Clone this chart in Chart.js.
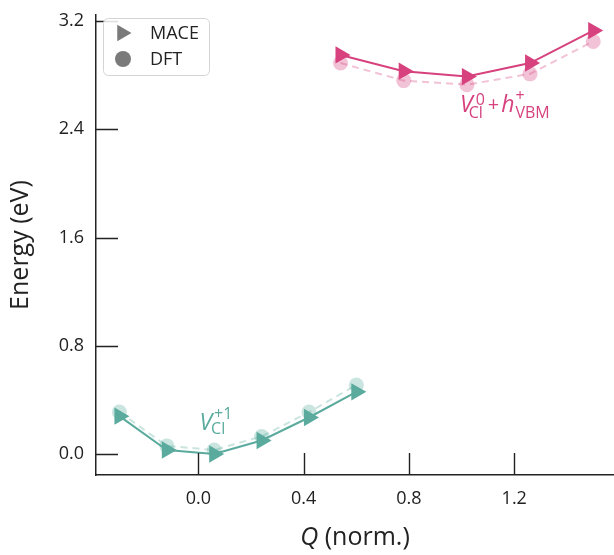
<!DOCTYPE html>
<html>
<head>
<meta charset="utf-8">
<script src="https://cdn.jsdelivr.net/npm/chart.js@4"></script>
<style>
  html, body { margin: 0; padding: 0; background: #fff; }
  canvas { display: block; }
</style>
</head>
<body>
<canvas id="chart" width="614" height="555"></canvas>
<script>
// Configuration-coordinate energies for the two charge states
const qCharged = [-0.30, -0.12, 0.06, 0.24, 0.42, 0.60];
const maceCharged = [0.28, 0.03, 0.00, 0.10, 0.27, 0.46];
const dftCharged = [0.31, 0.06, 0.03, 0.13, 0.31, 0.51];

const qNeutral = [0.54, 0.78, 1.02, 1.26, 1.50];
const maceNeutral = [2.95, 2.83, 2.79, 2.89, 3.13];
const dftNeutral = [2.89, 2.76, 2.73, 2.81, 3.05];

const xTicks = [0.0, 0.4, 0.8, 1.2];
const yTicks = [0.0, 0.8, 1.6, 2.4, 3.2];
const legendLabels = ['MACE', 'DFT'];
const xTitleParts = ['Q', ' (norm.)'];
const yTitle = 'Energy (eV)';

const FONT = '"Open Sans", "DejaVu Sans", sans-serif';
const TEAL = '#5aab9d';
const PINK = '#d6417e';
const INK = '#222222';

function rgba(hex, a) {
  const n = parseInt(hex.slice(1), 16);
  return `rgba(${(n >> 16) & 255},${(n >> 8) & 255},${n & 255},${a})`;
}
function points(xs, ys) {
  return xs.map((x, i) => ({ x, y: ys[i] }));
}

function maceSet(xs, ys, color) {
  return {
    data: points(xs, ys),
    showLine: true,
    borderColor: color,
    borderWidth: 2,
    pointStyle: 'triangle',
    pointRotation: 90,
    pointRadius: 10,
    pointHoverRadius: 10,
    pointBackgroundColor: color,
    pointBorderColor: 'transparent',
    pointBorderWidth: 0
  };
}
function dftSet(xs, ys, color) {
  return {
    data: points(xs, ys),
    showLine: true,
    borderColor: rgba(color, 0.32),
    borderWidth: 2,
    borderDash: [7, 5],
    pointStyle: 'circle',
    pointRadius: 7.5,
    pointHoverRadius: 7.5,
    pointBackgroundColor: rgba(color, 0.32),
    pointBorderColor: 'transparent',
    pointBorderWidth: 0
  };
}

// Inward-pointing tick marks on both axes
const innerTicks = {
  id: 'innerTicks',
  afterDatasetsDraw(chart) {
    const { ctx, chartArea: a, scales: { x, y } } = chart;
    const len = 22;
    ctx.save();
    ctx.strokeStyle = INK;
    ctx.lineWidth = 1.4;
    ctx.beginPath();
    xTicks.forEach(v => {
      const px = Math.round(x.getPixelForValue(v)) + 0.5;
      ctx.moveTo(px, a.bottom);
      ctx.lineTo(px, a.bottom - len);
    });
    yTicks.forEach(v => {
      const py = Math.round(y.getPixelForValue(v)) + 0.5;
      ctx.moveTo(a.left, py);
      ctx.lineTo(a.left + len, py);
    });
    ctx.stroke();
    ctx.restore();
  }
};

// Axis titles (the x title mixes italic and upright text)
const axisTitles = {
  id: 'axisTitles',
  afterDraw(chart) {
    const { ctx, chartArea: a } = chart;
    ctx.save();
    ctx.fillStyle = INK;
    ctx.textBaseline = 'alphabetic';
    const size = 25;
    const fItal = `italic ${size}px ${FONT}`;
    const fReg = `${size}px ${FONT}`;
    ctx.font = fItal;
    const w0 = ctx.measureText(xTitleParts[0]).width;
    ctx.font = fReg;
    const w1 = ctx.measureText(xTitleParts[1]).width;
    const xs = (a.left + a.right) / 2 - (w0 + w1) / 2;
    ctx.font = fItal;
    ctx.fillText(xTitleParts[0], xs, 545);
    ctx.font = fReg;
    ctx.fillText(xTitleParts[1], xs + w0, 545);

    ctx.translate(21, (a.top + a.bottom) / 2);
    ctx.rotate(-Math.PI / 2);
    ctx.textAlign = 'center';
    ctx.textBaseline = 'middle';
    ctx.font = `${size}px ${FONT}`;
    ctx.fillText(yTitle, 0, 0);
    ctx.restore();
  }
};

// Framed legend in the upper-left corner
const cornerLegend = {
  id: 'cornerLegend',
  afterDraw(chart) {
    const { ctx } = chart;
    const bx = 103.5, by = 18.5, bw = 106, bh = 57, r = 5;
    ctx.save();
    ctx.beginPath();
    ctx.roundRect(bx, by, bw, bh, r);
    ctx.fillStyle = 'rgba(255,255,255,0.85)';
    ctx.fill();
    ctx.strokeStyle = '#d4d4d4';
    ctx.lineWidth = 1;
    ctx.stroke();

    const gray = '#7a7a7a';
    const mx = 122, row1 = 33, row2 = 59;
    // right-pointing triangle
    const tr = 9.5;
    ctx.fillStyle = gray;
    ctx.beginPath();
    ctx.moveTo(mx + tr, row1);
    ctx.lineTo(mx - tr / 2, row1 - tr * Math.sqrt(3) / 2);
    ctx.lineTo(mx - tr / 2, row1 + tr * Math.sqrt(3) / 2);
    ctx.closePath();
    ctx.fill();
    // circle
    ctx.beginPath();
    ctx.arc(mx + 1, row2, 8, 0, Math.PI * 2);
    ctx.fill();

    ctx.fillStyle = INK;
    ctx.font = `18px ${FONT}`;
    ctx.textBaseline = 'middle';
    ctx.fillText(legendLabels[0], 150, row1 + 1);
    ctx.fillText(legendLabels[1], 150, row2 + 1);
    ctx.restore();
  }
};

// Charge-state labels with sub/superscripts
const stateLabels = {
  id: 'stateLabels',
  afterDatasetsDraw(chart) {
    const { ctx, scales: { x, y } } = chart;
    const big = 23, small = 16;
    const it = s => `italic ${s}px ${FONT}`;
    const rg = s => `${s}px ${FONT}`;
    ctx.save();
    ctx.textBaseline = 'alphabetic';

    // V_Cl^0 + h_VBM^+
    {
      let px = x.getPixelForValue(0.994), py = y.getPixelForValue(2.526);
      ctx.fillStyle = PINK;
      ctx.font = it(big);
      ctx.fillText('V', px, py);
      const wV = ctx.measureText('V').width;
      ctx.font = rg(small);
      ctx.fillText('0', px + wV + 3, py - 7);
      ctx.fillText('Cl', px + wV - 4, py + 6);
      const wCl = ctx.measureText('Cl').width;
      px = px + wV - 4 + wCl + 5;
      ctx.font = rg(20);
      ctx.fillText('+', px, py - 1);
      px += ctx.measureText('+').width + 2;
      ctx.font = it(big);
      ctx.fillText('h', px, py);
      px += ctx.measureText('h').width + 1;
      ctx.font = rg(small);
      ctx.fillText('+', px, py - 11);
      ctx.fillText('VBM', px, py + 6);
    }
    // V_Cl^{+1}
    {
      const px = x.getPixelForValue(0.004), py = y.getPixelForValue(0.18);
      ctx.fillStyle = TEAL;
      ctx.font = it(big);
      ctx.fillText('V', px, py);
      const wV = ctx.measureText('V').width;
      ctx.font = rg(small);
      ctx.fillText('+1', px + wV + 2, py - 11);
      ctx.fillText('Cl', px + wV - 1, py + 4);
    }
    ctx.restore();
  }
};

const tickFont = { family: FONT, size: 18 };

function fixBox(size, prop) {
  return function (s) {
    s[prop] = size;
    s.paddingTop = 0;
    s.paddingBottom = 0;
    s.paddingLeft = 0;
    s.paddingRight = 0;
  };
}

new Chart(document.getElementById('chart'), {
  type: 'scatter',
  data: {
    datasets: [
      maceSet(qNeutral, maceNeutral, PINK),
      maceSet(qCharged, maceCharged, TEAL),
      dftSet(qNeutral, dftNeutral, PINK),
      dftSet(qCharged, dftCharged, TEAL)
    ]
  },
  options: {
    responsive: false,
    animation: false,
    events: [],
    layout: { autoPadding: false, padding: { top: 15, right: 0, left: 0, bottom: 0 } },
    plugins: {
      legend: { display: false },
      tooltip: { enabled: false }
    },
    scales: {
      x: {
        type: 'linear',
        min: -0.389,
        max: 1.579,
        afterBuildTicks(s) { s.ticks = xTicks.map(v => ({ value: v })); },
        afterFit: fixBox(80, 'height'),
        grid: { drawOnChartArea: false, drawTicks: false },
        border: { color: INK, width: 1.5 },
        ticks: {
          padding: 13,
          color: INK,
          font: tickFont,
          maxRotation: 0,
          callback: v => v.toFixed(1)
        }
      },
      y: {
        type: 'linear',
        min: -0.155,
        max: 3.245,
        afterBuildTicks(s) { s.ticks = yTicks.map(v => ({ value: v })); },
        afterFit: fixBox(96, 'width'),
        grid: { drawOnChartArea: false, drawTicks: false },
        border: { color: INK, width: 1.5 },
        ticks: {
          padding: 12,
          color: INK,
          font: tickFont,
          callback: v => v.toFixed(1)
        }
      }
    }
  },
  plugins: [innerTicks, stateLabels, axisTitles, cornerLegend]
});
</script>
</body>
</html>
